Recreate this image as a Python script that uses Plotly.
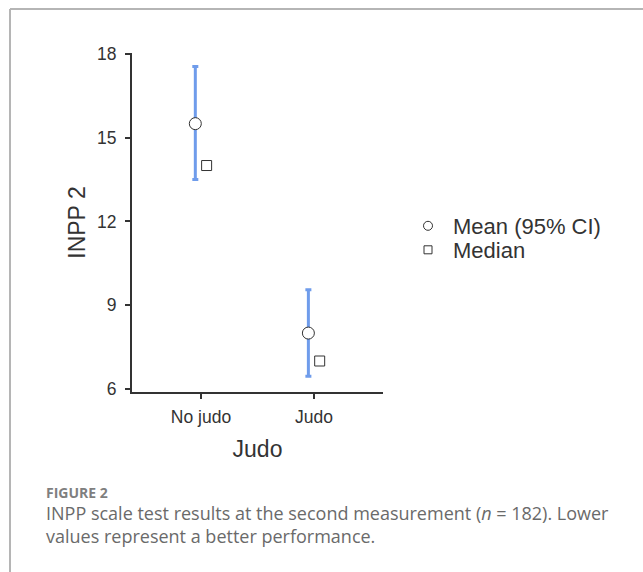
import plotly.graph_objects as go

categories = ["No judo", "Judo"]
cat_pos = [0, 1]
mean_vals = [15.5, 8.0]
ci_upper = [17.55, 9.55]
ci_lower = [13.5, 6.45]
median_vals = [14.0, 7.0]
y_ticks = [6, 9, 12, 15, 18]

offset = 0.05
x_mean = [p - offset for p in cat_pos]
x_med = [p + offset for p in cat_pos]
err_plus = [u - m for u, m in zip(ci_upper, mean_vals)]
err_minus = [m - l for m, l in zip(mean_vals, ci_lower)]

DARK = "#333333"
fig = go.Figure()
fig.add_trace(go.Scatter(
    x=x_mean, y=mean_vals, mode="markers", name="Mean (95% CI)", showlegend=False,
    marker=dict(symbol="circle", size=12, color="white", line=dict(color=DARK, width=1)),
    error_y=dict(type="data", symmetric=False, array=err_plus, arrayminus=err_minus,
                 color="#6f9ceb", thickness=3, width=3),
))
fig.add_trace(go.Scatter(
    x=x_med, y=median_vals, mode="markers", name="Median", showlegend=False,
    marker=dict(symbol="square", size=10, color="white", line=dict(color=DARK, width=1)),
))
# legend-only entries (smaller symbols, like the reference legend)
fig.add_trace(go.Scatter(
    x=[None], y=[None], mode="markers", name="Mean (95% CI)", legend="legend",
    marker=dict(symbol="circle", size=9, color="white", line=dict(color=DARK, width=1)),
))
fig.add_trace(go.Scatter(
    x=[None], y=[None], mode="markers", name="Median", legend="legend2",
    marker=dict(symbol="square", size=8, color="white", line=dict(color=DARK, width=1)),
))

W, H = 643, 572
L, R, T, B = 132, 260, 53, 180
pw = W - L - R
ph = H - T - B

def px_x(px):
    return (px - L) / pw

def px_y(py):
    return (H - B - py) / ph

leg_common = dict(xanchor="left", yanchor="middle", font=dict(size=22, color=DARK),
                  itemsizing="trace", itemwidth=40, bgcolor="rgba(0,0,0,0)")

axis_common = dict(showgrid=False, zeroline=False, showline=True, linecolor=DARK, linewidth=2,
                   ticks="outside", ticklen=5, tickwidth=2, tickcolor=DARK,
                   tickfont=dict(size=17.5, color=DARK))

fig.update_layout(
    width=W, height=H,
    margin=dict(l=L, r=R, t=T, b=B, pad=0),
    paper_bgcolor="white", plot_bgcolor="white",
    font=dict(family="Liberation Sans, Arial, sans-serif", color=DARK, size=16),
    showlegend=True,
    legend=dict(x=px_x(403), y=px_y(226), **leg_common),
    legend2=dict(x=px_x(403), y=px_y(250), **leg_common),
    xaxis=dict(range=[-0.61, 1.61], tickvals=cat_pos, ticktext=categories,
               ticklabelstandoff=3,
               title=dict(text="Judo", font=dict(size=23, color=DARK), standoff=15),
               **axis_common),
    yaxis=dict(range=[5.89, 18.03], tickvals=y_ticks, ticklabelstandoff=5,
               title=dict(text="INPP 2", font=dict(size=23, color=DARK), standoff=5),
               **axis_common),
    shapes=[
        dict(type="line", xref="paper", yref="paper", x0=px_x(10), x1=px_x(650), y0=px_y(9), y1=px_y(9),
             line=dict(color="#b5b5b5", width=2)),
        dict(type="line", xref="paper", yref="paper", x0=px_x(10), x1=px_x(10), y0=px_y(9), y1=px_y(580),
             line=dict(color="#b5b5b5", width=2)),
    ],
    annotations=[
        dict(text="<b>FIGURE 2</b>", xref="paper", yref="paper", x=px_x(44), y=px_y(492),
             xanchor="left", yanchor="middle", showarrow=False,
             font=dict(family="Open Sans, sans-serif", size=14, color="#7f7f7f")),
        dict(text="INPP scale test results at the second measurement (<i>n</i> = 182). Lower<br>values represent a better performance.",
             xref="paper", yref="paper", x=px_x(44), y=px_y(499),
             xanchor="left", yanchor="top", align="left", showarrow=False,
             font=dict(family="Open Sans, sans-serif", size=18, color="#6a6a6a")),
    ],
)

fig.write_html("out.html")
